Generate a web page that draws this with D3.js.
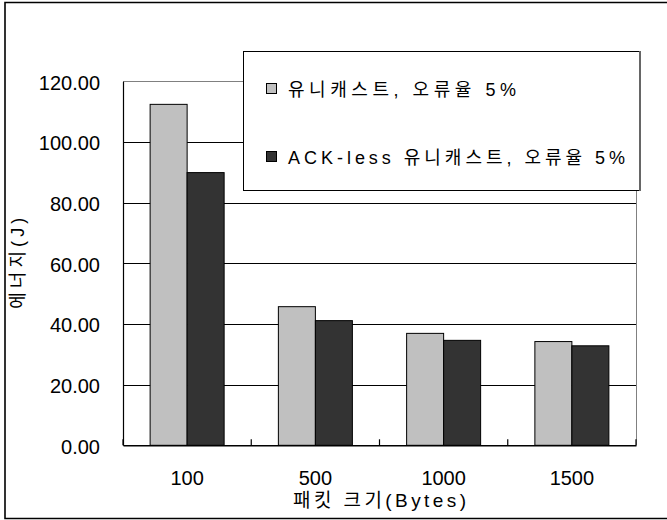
<!DOCTYPE html>
<html>
<head>
<meta charset="utf-8">
<script src="https://cdn.jsdelivr.net/npm/d3@7"></script>
<style>
  html, body { margin: 0; padding: 0; background: #fff; }
  svg { display: block; }
  text { fill: #000; }
</style>
</head>
<body>
<svg id="chart" width="667" height="520"></svg>
<script>
// Packet size categories (bytes)
const categories = ["100", "500", "1000", "1500"];
// Energy (J) per series
const unicastValues = [112.4, 45.7, 36.9, 34.2];
const acklessValues = [89.9, 41.1, 34.6, 32.8];
const seriesNames = ["유니캐스트, 오류율 5%", "ACK-less 유니캐스트, 오류율 5%"];
const seriesColors = ["#c0c0c0", "#333333"];
const yTickValues = [0, 20, 40, 60, 80, 100, 120];
const xTitle = "패킷 크기(Bytes)";
const yTitle = "에너지(J)";

const svg = d3.select("#chart");
const plot = { left: 123, right: 636, top: 81.3, bottom: 445.3 };
const numFont = "'Liberation Sans', Arial, 'Noto Sans CJK KR', sans-serif";

// Outer frame (right side runs past the page edge)
svg.append("path")
  .attr("d", `M700,2.5H5V518.5H700`)
  .attr("fill", "none").attr("stroke", "#000").attr("stroke-width", 1.6);

const x = d3.scaleBand().domain(categories)
  .range([plot.left, plot.right]).paddingInner(0.423).paddingOuter(0.2115);
const y = d3.scaleLinear().domain([0, 120]).range([plot.bottom, plot.top]);

// Horizontal gridlines
svg.append("g").selectAll("line")
  .data(yTickValues.filter(v => v > 0 && v < 120))
  .join("line")
  .attr("x1", plot.left).attr("x2", plot.right)
  .attr("y1", d => Math.round(y(d)) + 0.5).attr("y2", d => Math.round(y(d)) + 0.5)
  .attr("stroke", "#000").attr("stroke-width", 1);

// Plot-area frame: top and right in grey
svg.append("path")
  .attr("d", `M${plot.left},${Math.round(plot.top) + 0.5}H${plot.right + 0.5}V${plot.bottom}`)
  .attr("fill", "none").attr("stroke", "#808080").attr("stroke-width", 1);

// Bars
const series = [unicastValues, acklessValues];
const bw = x.bandwidth() / 2;
series.forEach((vals, si) => {
  svg.append("g").selectAll("rect")
    .data(vals)
    .join("rect")
    .attr("x", (d, i) => x(categories[i]) + si * bw)
    .attr("y", d => y(d))
    .attr("width", bw)
    .attr("height", d => y(0) - y(d))
    .attr("fill", seriesColors[si])
    .attr("stroke", "#000").attr("stroke-width", 1);
});

// Y axis
const yAxis = d3.axisLeft(y).tickValues(yTickValues).tickSize(0).tickPadding(23)
  .tickFormat(d3.format(".2f"));
const gy = svg.append("g").attr("transform", `translate(${plot.left},0)`).call(yAxis);
gy.select(".domain").attr("stroke", "#000").attr("stroke-width", 1.2);
gy.selectAll("text").attr("font-family", numFont).attr("font-size", 20).attr("dy", "0.4em");

// X axis with inward tick marks at category boundaries
const xAxis = d3.axisBottom(x).tickSize(0).tickPadding(26);
const gx = svg.append("g").attr("transform", `translate(0,${plot.bottom})`).call(xAxis);
gx.select(".domain").attr("stroke", "#000").attr("stroke-width", 1.6);
gx.selectAll("text").attr("font-family", numFont).attr("font-size", 20);
const step = x.step();
svg.append("g").selectAll("line")
  .data(d3.range(categories.length + 1))
  .join("line")
  .attr("x1", i => plot.left + i * step).attr("x2", i => plot.left + i * step)
  .attr("y1", plot.bottom).attr("y2", plot.bottom - 6)
  .attr("stroke", "#000").attr("stroke-width", 1.2);

// Axis titles
svg.append("text")
  .attr("x", (plot.left + plot.right) / 2).attr("y", 507)
  .attr("text-anchor", "middle")
  .attr("font-family", numFont).attr("font-size", 19)
  .attr("textLength", 173).attr("lengthAdjust", "spacing")
  .text(xTitle);

svg.append("text")
  .attr("transform", `translate(24,${(plot.top + plot.bottom) / 2}) rotate(-90)`)
  .attr("text-anchor", "middle")
  .attr("font-family", numFont).attr("font-size", 18)
  .attr("textLength", 91).attr("lengthAdjust", "spacing")
  .text(yTitle);

// Legend
const legend = svg.append("g");
legend.append("rect")
  .attr("x", 243.5).attr("y", 51.5).attr("width", 396).attr("height", 139)
  .attr("fill", "#fff").attr("stroke", "#000").attr("stroke-width", 1);
legend.append("line")
  .attr("x1", 640).attr("x2", 640).attr("y1", 51).attr("y2", 191)
  .attr("stroke", "#666").attr("stroke-width", 2);
const legendRows = [89, 157];
const legendWidths = [228, 337];
seriesNames.forEach((name, i) => {
  legend.append("rect")
    .attr("x", 266.5).attr("y", legendRows[i] - 5.5).attr("width", 10).attr("height", 10)
    .attr("fill", seriesColors[i]).attr("stroke", "#000").attr("stroke-width", 1);
  legend.append("text")
    .attr("x", 288).attr("y", legendRows[i] + 7)
    .attr("font-family", numFont).attr("font-size", 18)
    .attr("textLength", legendWidths[i]).attr("lengthAdjust", "spacing")
    .text(name);
});
</script>
</body>
</html>
